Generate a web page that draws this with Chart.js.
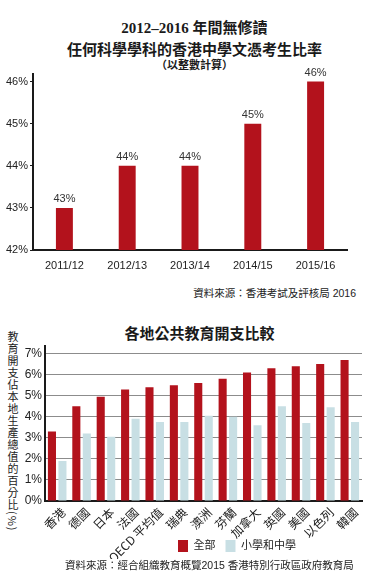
<!DOCTYPE html>
<html lang="zh-Hant">
<head>
    <meta charset="UTF-8">
    <title>文憑考生比率 / 公共教育開支</title>
    <style>
        body {
            margin: 0;
            background: #fff;
            width: 377px;
            height: 583px;
            position: relative;
            overflow: hidden;
            font-family: "Liberation Sans", Arial, "Noto Sans CJK TC", sans-serif;
            color: #222;
        }
        .title {
            position: absolute;
            left: 0;
            width: 377px;
            text-align: center;
            font-family: "Liberation Serif", "Noto Sans CJK TC", serif;
            font-weight: bold;
            color: #1a1a1a;
            white-space: nowrap;
        }
        .source {
            position: absolute;
            font-size: 10.5px;
            font-family: "Liberation Sans", "Noto Sans CJK TC", sans-serif;
            color: #222;
            white-space: nowrap;
        }
        .ytitle {
            position: absolute;
            left: 7px;
            top: 331px;
            font-size: 11px;
            line-height: 12px;
            letter-spacing: 1px;
            writing-mode: vertical-rl;
            font-family: "Noto Sans CJK TC", sans-serif;
            color: #222;
        }
        canvas {
            position: absolute;
            left: 0;
        }
    </style>
    <script src="https://cdn.jsdelivr.net/npm/chart.js"></script>
</head>
<body>
    <div class="title" style="top:16px;font-size:15px;left:6px;">2012–2016 年間無修讀</div>
    <div class="title" style="top:38px;font-size:15px;left:6px;">任何科學學科的香港中學文憑考生比率</div>
    <div class="title" style="top:56px;font-size:11px;left:6px;">（以整數計算）</div>
    <canvas id="rateChart" width="377" height="216" style="top:64px"></canvas>
    <div class="source" style="top:285px;right:21px;">資料來源：香港考試及評核局 2016</div>

    <div class="title" style="top:322px;font-size:15px;left:11px;">各地公共教育開支比較</div>
    <div class="ytitle">教育開支佔本地生產總值的百分比(%)</div>
    <canvas id="spendChart" width="377" height="260" style="top:336px"></canvas>
    <div class="source" style="top:557px;left:65px;">資料來源：經合組織教育概覽2015 香港特別行政區政府教育局</div>

    <script>
        // top chart data
        var years = ['2011/12', '2012/13', '2013/14', '2014/15', '2015/16'];
        var rateValues = [43, 44, 44, 45, 46];

        // bottom chart data
        var places = ['香港', '德國', '日本', '法國', 'OECD 平均值', '瑞典', '澳洲', '芬蘭', '加拿大', '英國', '美國', '以色列', '韓國'];
        var allLevels = [3.3, 4.5, 4.95, 5.3, 5.4, 5.5, 5.6, 5.8, 6.1, 6.3, 6.4, 6.5, 6.7];
        var schoolLevels = [1.9, 3.2, 3.05, 3.9, 3.75, 3.75, 4.05, 4.0, 3.6, 4.5, 3.7, 4.45, 3.75];

        var RED = '#b3121c';
        var BLUE = '#c8dfe4';
        var TXT = '#222';

        Chart.defaults.font.family = '"Liberation Sans", Arial, "Noto Sans CJK TC", sans-serif';
        Chart.defaults.color = TXT;

        // integer ticks only, even though the axis runs a little past the last one
        function wholeTicks(scale) {
            var out = [];
            for (var v = Math.ceil(scale.min); v <= Math.floor(scale.max); v++) out.push({ value: v });
            scale.ticks = out;
        }

        var valueLabels = {
            id: 'valueLabels',
            afterDatasetsDraw: function (chart) {
                var ctx = chart.ctx;
                var meta = chart.getDatasetMeta(0);
                ctx.save();
                ctx.font = '11px "Liberation Sans", Arial, sans-serif';
                ctx.fillStyle = '#333';
                ctx.textAlign = 'center';
                ctx.textBaseline = 'bottom';
                meta.data.forEach(function (bar, i) {
                    ctx.fillText(rateValues[i] + '%', bar.x, bar.y - 3);
                });
                ctx.restore();
            }
        };

        // in the original the legend tucks in beside the slanted labels, right of centre
        var legendShift = {
            id: 'legendShift',
            afterLayout: function (chart) {
                var lg = chart.legend;
                var h = lg.bottom - lg.top;
                lg.left += 56;
                lg.right += 56;
                lg.top = 194;
                lg.bottom = lg.top + h;
            }
        };

        new Chart(document.getElementById('rateChart'), {
            type: 'bar',
            data: {
                labels: years,
                datasets: [{
                    data: rateValues,
                    backgroundColor: RED,
                    barPercentage: 0.27,
                    categoryPercentage: 1
                }]
            },
            options: {
                responsive: false,
                animation: false,
                layout: { padding: { top: 10, right: 30, left: 0, bottom: 0 } },
                plugins: { legend: { display: false }, tooltip: { enabled: false } },
                scales: {
                    x: {
                        grid: { display: false, drawTicks: false },
                        border: { display: true, color: '#1a1a1a', width: 2 },
                        ticks: { font: { size: 11 }, color: TXT, padding: 9 },
                        afterFit: function (s) { s.height = 30; }
                    },
                    y: {
                        min: 42,
                        max: 46.18,
                        afterBuildTicks: wholeTicks,
                        grid: { drawOnChartArea: false, drawTicks: true, tickLength: 3, color: '#1a1a1a' },
                        border: { display: true, color: '#1a1a1a', width: 2 },
                        ticks: {
                            font: { size: 11 },
                            color: TXT,
                            padding: 2,
                            callback: function (v) { return v + '%'; }
                        },
                        afterFit: function (s) { s.width = 33; }
                    }
                }
            },
            plugins: [valueLabels]
        });

        new Chart(document.getElementById('spendChart'), {
            type: 'bar',
            data: {
                labels: places,
                datasets: [{
                    label: '全部',
                    data: allLevels,
                    backgroundColor: RED,
                    barPercentage: 0.77,
                    categoryPercentage: 0.86
                }, {
                    label: '小學和中學',
                    data: schoolLevels,
                    backgroundColor: BLUE,
                    barPercentage: 0.77,
                    categoryPercentage: 0.86
                }]
            },
            options: {
                responsive: false,
                animation: false,
                layout: { padding: { top: 7, right: 15, left: 0, bottom: 5 } },
                plugins: {
                    tooltip: { enabled: false },
                    legend: {
                        position: 'bottom',
                        labels: {
                            boxWidth: 10,
                            boxHeight: 12,
                            padding: 10,
                            font: { size: 11 },
                            color: TXT
                        }
                    }
                },
                scales: {
                    x: {
                        grid: { display: false, drawTicks: false },
                        border: { display: true, color: '#1a1a1a', width: 2 },
                        ticks: {
                            font: { size: 12, family: '"Noto Sans CJK TC", sans-serif' },
                            color: TXT,
                            maxRotation: 45,
                            minRotation: 45,
                            autoSkip: false,
                            padding: 4,
                            labelOffset: 6
                        },
                        afterFit: function (s) { s.height = 58; }
                    },
                    y: {
                        min: 0,
                        max: 7.35,
                        afterBuildTicks: wholeTicks,
                        grid: { color: '#8c8c8c', lineWidth: 1, drawTicks: false },
                        border: { display: true, color: '#1a1a1a', width: 2 },
                        ticks: {
                            font: { size: 12 },
                            color: TXT,
                            padding: 3,
                            callback: function (v) { return v + '%'; }
                        },
                        afterFit: function (s) { s.width = 45; }
                    }
                }
            },
            plugins: [legendShift]
        });
    </script>
</body>
</html>
